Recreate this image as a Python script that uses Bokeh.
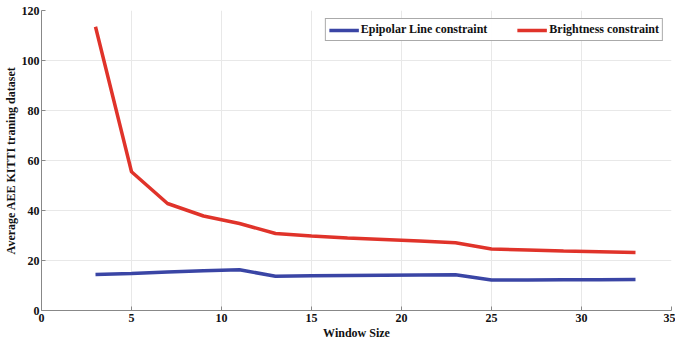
from bokeh.plotting import figure
from bokeh.models import Range1d, FixedTicker, Legend, LegendItem
from bokeh.embed import file_html
from bokeh.resources import INLINE

window = [3, 5, 7, 9, 11, 13, 15, 17, 19, 21, 23, 25, 27, 29, 31, 33]
epipolar = [14.4, 14.8, 15.4, 15.9, 16.3, 13.7, 13.9, 14.0, 14.1, 14.2, 14.3, 12.2, 12.2, 12.3, 12.3, 12.4]
brightness = [113.5, 55.5, 42.8, 37.8, 34.8, 30.8, 29.8, 29.0, 28.4, 27.8, 27.1, 24.6, 24.2, 23.8, 23.5, 23.2]
x_ticks = [0, 5, 10, 15, 20, 25, 30, 35]
y_ticks = [0, 20, 40, 60, 80, 100, 120]

FONT = "Liberation Serif"

p = figure(width=675, height=342, output_backend="svg", toolbar_location=None,
           x_range=Range1d(0, 35), y_range=Range1d(0, 120),
           min_border_left=41, min_border_right=4, min_border_top=10, min_border_bottom=32)
p.outline_line_color = None

l1 = p.line(window, epipolar, line_color="#3a45a5", line_width=3.5)
l2 = p.line(window, brightness, line_color="#e0332a", line_width=3.5)

p.xaxis.ticker = FixedTicker(ticks=x_ticks)
p.yaxis.ticker = FixedTicker(ticks=y_ticks)
for ax in (p.xaxis[0], p.yaxis[0]):
    ax.axis_line_color = "#888888"
    ax.major_tick_line_color = "#888888"
    ax.major_tick_in = 4
    ax.major_tick_out = 0
    ax.minor_tick_line_color = None
    ax.major_label_text_font = FONT
    ax.major_label_text_font_style = "bold"
    ax.major_label_text_font_size = "12px"
    ax.major_label_text_color = "#111111"
    ax.axis_label_text_font = FONT
    ax.axis_label_text_font_style = "bold"
    ax.axis_label_text_font_size = "12px"
    ax.axis_label_text_color = "#111111"

p.xaxis.axis_label = "Window Size"
p.yaxis.axis_label = "Average AEE KITTI traning dataset"
p.xaxis.major_label_standoff = 3
p.xaxis.axis_label_standoff = 1
p.yaxis.major_label_standoff = 2
p.yaxis.axis_label_standoff = 1

p.xgrid.grid_line_color = "#e8e8e8"
p.ygrid.grid_line_color = "#e8e8e8"

legend = Legend(items=[LegendItem(label="Epipolar Line constraint", renderers=[l1]),
                       LegendItem(label="Brightness constraint", renderers=[l2])],
                orientation="horizontal", location="top_right")
legend.label_text_font = FONT
legend.label_text_font_style = "bold"
legend.label_text_font_size = "12px"
legend.label_text_color = "#111111"
legend.border_line_color = "#555555"
legend.border_line_width = 1
legend.glyph_width = 30
legend.glyph_height = 10
legend.label_standoff = 2
legend.spacing = 30
legend.padding = 3
legend.margin = 8
legend.label_height = 12
p.add_layout(legend, "center")

open("out.html", "w").write(file_html(p, INLINE))
